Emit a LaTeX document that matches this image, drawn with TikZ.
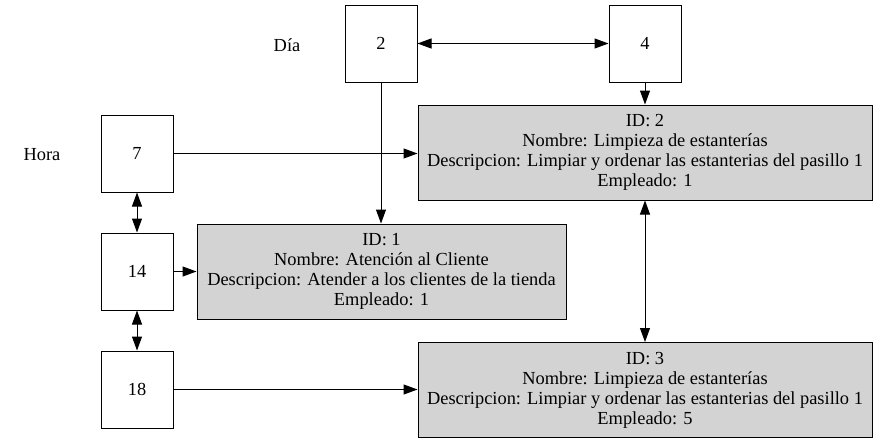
\documentclass[tikz,border=0pt]{standalone}
\usepackage{fontspec}
\setmainfont{Liberation Serif}
\usetikzlibrary{arrows.meta,positioning}

\definecolor{taskgray}{HTML}{D3D3D3}
\tikzset{
  timebox/.style={draw, line width=0.75pt, minimum width=54pt, minimum height=57.75pt, inner sep=0pt},
  taskbox/.style={draw, fill=taskgray, line width=0.75pt, minimum height=71.25pt, align=center, inner sep=0pt},
  link/.style={line width=0.75pt, -{Triangle[length=10.5pt,width=7.5pt]}},
  dlink/.style={line width=0.75pt, {Triangle[length=10.5pt,width=7.5pt]}-{Triangle[length=10.5pt,width=7.5pt]}}
}

\begin{document}
\begin{tikzpicture}[x=0.75pt, y=-0.75pt, font=\fontsize{13.8}{15}\selectfont]
    \useasboundingbox (0,0) rectangle (878,443);

    % Labels
    \node (dia) at (287,45) {Día};
    \node (hora) at (42,155) {Hora};

    % Days
    \node[timebox] (d2) at (381,43.5) {2};
    \node[timebox] (d4) at (645,43.5) {4};

    % Hours
    \node[timebox] (h7) at (137,153.5) {7};
    \node[timebox] (h14) at (137,271.5) {14};
    \node[timebox] (h18) at (137,389.5) {18};

    % Tasks
    \node[taskbox, minimum width=276.75pt] (t1) at (381.5,271.5)
        {ID: 1\\Nombre: Atención al Cliente\\Descripcion: Atender a los clientes de la tienda\\Empleado: 1};
    \node[taskbox, minimum width=340.5pt] (t2) at (645,152.5)
        {ID: 2\\Nombre: Limpieza de estanterías\\Descripcion: Limpiar y ordenar las estanterias del pasillo 1\\Empleado: 1};
    \node[taskbox, minimum width=340.5pt] (t3) at (645,390)
        {ID: 3\\Nombre: Limpieza de estanterías\\Descripcion: Limpiar y ordenar las estanterias del pasillo 1\\Empleado: 5};

    % Connections
    \draw[dlink] (d2) -- (d4);
    \draw[link] (d2.south) -- (d2.south |- t1.north);
    \draw[link] (d4.south) -- (d4.south |- t2.north);
    \draw[link] (h7.east) -- (h7.east -| t2.west);
    \draw[dlink] (h7) -- (h14);
    \draw[dlink] (h14) -- (h18);
    \draw[link] (h14) -- (t1);
    \draw[link] (h18.east) -- (h18.east -| t3.west);
    \draw[dlink] (t2) -- (t3);
\end{tikzpicture}
\end{document}
